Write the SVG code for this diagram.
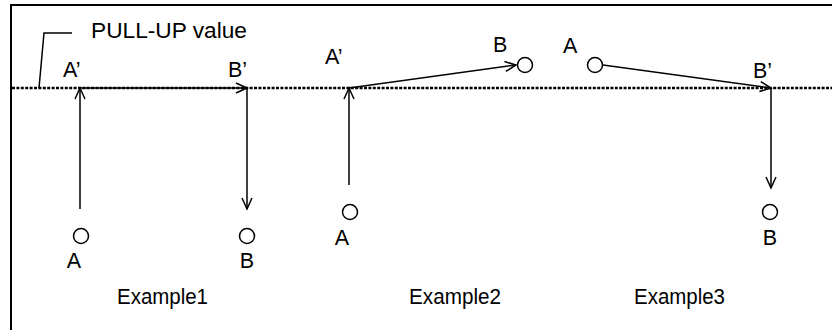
<svg xmlns="http://www.w3.org/2000/svg" width="832" height="330" viewBox="0 0 832 330">
<style>
text{font-family:"Liberation Sans",Arial,sans-serif;font-size:21.5px;fill:#000}
.lbl{text-anchor:middle}
.ln{stroke:#000;stroke-width:1.5;fill:none}
.pt{stroke:#000;stroke-width:1.5;fill:#fff}
</style>
<defs>
<marker id="ah" markerUnits="userSpaceOnUse" markerWidth="14" markerHeight="14" refX="0" refY="0" orient="auto" overflow="visible">
<path d="M-11,-5 L0,0 L-11,5" fill="none" stroke="#000" stroke-width="1.5"/>
</marker>
</defs>
<rect width="832" height="330" fill="#fff"/>
<g id="frame">
<line x1="11" y1="5" x2="832" y2="5" stroke="#000" stroke-width="2"/>
<line x1="11" y1="4" x2="11" y2="330" stroke="#000" stroke-width="2"/>
</g>
<g id="pullup">
<line x1="12" y1="88" x2="832" y2="88" stroke="#000" stroke-width="2.5" stroke-dasharray="3,1.4"/>
<polyline class="ln" points="39,88 44,33 72,33"/>
<text x="91" y="38" textLength="156" lengthAdjust="spacingAndGlyphs">PULL-UP value</text>
</g>
<g id="connectors">
<line class="ln" x1="80" y1="209" x2="80" y2="88" marker-end="url(#ah)"/>
<line class="ln" x1="80" y1="88" x2="247" y2="88" marker-end="url(#ah)"/>
<line class="ln" x1="247" y1="88" x2="247" y2="209" marker-end="url(#ah)"/>
<line class="ln" x1="349" y1="185" x2="349" y2="88" marker-end="url(#ah)"/>
<line class="ln" x1="349" y1="88" x2="516" y2="65" marker-end="url(#ah)"/>
<line class="ln" x1="603" y1="65" x2="771" y2="88" marker-end="url(#ah)"/>
<line class="ln" x1="771" y1="88" x2="771" y2="188" marker-end="url(#ah)"/>
</g>
<g id="ex1-A"><circle class="pt" cx="81" cy="236" r="7.5"/><text class="lbl" x="74" y="268">A</text></g>
<g id="ex1-B"><circle class="pt" cx="247" cy="236" r="7.5"/><text class="lbl" x="247" y="268">B</text></g>
<g id="ex1-A2"><text x="63" y="77">A’</text></g>
<g id="ex1-B2"><text x="228" y="77">B’</text></g>
<g id="ex2-A"><circle class="pt" cx="350" cy="212" r="7.5"/><text class="lbl" x="342" y="245">A</text></g>
<g id="ex2-A2"><text x="325" y="64">A’</text></g>
<g id="ex2-B"><circle class="pt" cx="525" cy="65" r="7.5"/><text x="493" y="52">B</text></g>
<g id="ex3-A"><circle class="pt" cx="595" cy="65" r="7.5"/><text x="563" y="53">A</text></g>
<g id="ex3-B2"><text x="753" y="78">B’</text></g>
<g id="ex3-B"><circle class="pt" cx="770" cy="212" r="7.5"/><text class="lbl" x="770" y="245">B</text></g>
<g id="captions">
<text x="117" y="304" textLength="91" lengthAdjust="spacingAndGlyphs">Example1</text>
<text x="409" y="304" textLength="92" lengthAdjust="spacingAndGlyphs">Example2</text>
<text x="634" y="304" textLength="91" lengthAdjust="spacingAndGlyphs">Example3</text>
</g>
</svg>
